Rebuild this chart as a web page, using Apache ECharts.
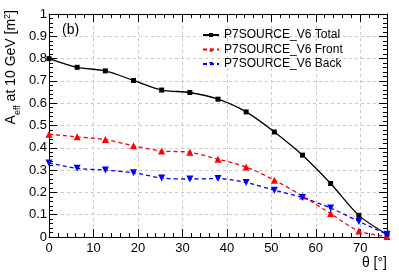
<!DOCTYPE html>
<html>
<head>
<meta charset="utf-8">
<script src="https://cdn.jsdelivr.net/npm/echarts@6/dist/echarts.min.js"></script>
<style>html,body{margin:0;padding:0;background:#fff}#c{width:399px;height:274px}</style>
</head>
<body>
<div id="c"></div>
<script>
const theta = [0, 6.33, 12.67, 19, 25.33, 31.67, 38, 44.33, 50.67, 57, 63.33, 69.67, 76];
const total = [0.800, 0.761, 0.745, 0.702, 0.659, 0.648, 0.618, 0.561, 0.471, 0.367, 0.240, 0.097, 0.012];
const front = [0.461, 0.449, 0.437, 0.409, 0.386, 0.380, 0.349, 0.314, 0.255, 0.184, 0.105, 0.027, 0.002];
const back  = [0.332, 0.308, 0.300, 0.288, 0.265, 0.260, 0.262, 0.244, 0.210, 0.177, 0.130, 0.070, 0.012];
const frontErr = [0, 0, 0, 0, 0, 0, 0, 0, 0.006, 0.006, 0.010, 0.010, 0.006];
const backErr  = [0, 0, 0, 0, 0, 0, 0, 0, 0.006, 0.008, 0.012, 0.010, 0.008];
const seriesNames = ['P7SOURCE_V6 Total', 'P7SOURCE_V6 Front', 'P7SOURCE_V6 Back'];
const xName = 'θ [°]';
const panelLabel = '(b)';

const pair = (ys) => theta.map((t, i) => [t, ys[i]]);
const errData = (ys, es) => theta.map((t, i) => [t, ys[i] - es[i], ys[i] + es[i]]).filter((d, i) => es[i] > 0);
const FONT = 'Liberation Sans, Arial, Helvetica, sans-serif';

const chart = echarts.init(document.getElementById('c'), null, {renderer: 'canvas'});
const gridLine = {show: true, lineStyle: {color: '#c8c8c8', type: [3, 3], width: 1}};
const tickIn = {show: true, inside: true, length: 8, lineStyle: {color: '#000', width: 1}};
const minorIn = {show: true, splitNumber: 5, length: 4, lineStyle: {color: '#000', width: 1}};
const axisLineBlack = {show: true, onZero: false, lineStyle: {color: '#000', width: 1}};

function errBar(color) {
  return function (params, api) {
    const top = api.coord([api.value(0), api.value(2)]);
    const bot = api.coord([api.value(0), api.value(1)]);
    return {
      type: 'line',
      shape: {x1: top[0], y1: top[1], x2: bot[0], y2: bot[1]},
      style: {stroke: color, lineWidth: 1.3}
    };
  };
}

chart.setOption({
  animation: false,
  backgroundColor: '#fff',
  textStyle: {fontFamily: FONT},
  grid: {left: 49, right: 12, top: 14, bottom: 37, containLabel: false},
  legend: {
    orient: 'vertical', left: 202, top: 28.5, padding: 0,
    itemWidth: 16, itemHeight: 5, itemGap: 1.5,
    textStyle: {fontFamily: FONT, fontSize: 12, color: '#000', lineHeight: 13},
    data: seriesNames
  },
  graphic: [{
    type: 'text', left: 62, top: 23,
    style: {text: panelLabel, font: '14px ' + FONT, fill: '#000'}
  }],
  xAxis: [{
    type: 'value', min: 0, max: 76, interval: 10, position: 'bottom',
    name: xName, nameLocation: 'end', nameGap: 0,
    nameTextStyle: {fontFamily: FONT, fontSize: 14, color: '#000', align: 'right', verticalAlign: 'top', padding: [19, 0, 0, 0]},
    axisLine: axisLineBlack, axisTick: tickIn,
    minorTick: minorIn,
    axisLabel: {fontFamily: FONT, fontSize: 13, color: '#000', margin: 5, showMaxLabel: false},
    splitLine: gridLine
  }, {
    type: 'value', min: 0, max: 76, interval: 10, position: 'top',
    axisLine: axisLineBlack, axisTick: tickIn, minorTick: minorIn,
    axisLabel: {show: false}, splitLine: {show: false}
  }],
  yAxis: [{
    type: 'value', min: 0, max: 1, interval: 0.1, position: 'left',
    name: '{a|A}{sub|eff}{a| at 10 GeV [m}{sup|2}{a|]}',
    nameLocation: 'end', nameRotate: 90, nameGap: 4,
    nameTextStyle: {
      align: 'right', verticalAlign: 'bottom', padding: [0, 0, 30, 0],
      rich: {
        a: {fontFamily: FONT, fontSize: 14, color: '#000', lineHeight: 16},
        sub: {fontFamily: FONT, fontSize: 9, color: '#000', verticalAlign: 'bottom', lineHeight: 16, padding: [0, 0, -3, 0]},
        sup: {fontFamily: FONT, fontSize: 9, color: '#000', verticalAlign: 'top', lineHeight: 16}
      }
    },
    axisLine: axisLineBlack, axisTick: tickIn, minorTick: minorIn,
    axisLabel: {fontFamily: FONT, fontSize: 13, color: '#000', margin: 2},
    splitLine: gridLine
  }, {
    type: 'value', min: 0, max: 1, interval: 0.1, position: 'right',
    axisLine: axisLineBlack, axisTick: tickIn, minorTick: minorIn,
    axisLabel: {show: false}, splitLine: {show: false}
  }],
  series: [{
    name: seriesNames[0], type: 'line', data: pair(total), smooth: 0.3,
    symbol: 'rect', symbolSize: 5,
    lineStyle: {color: '#000', width: 1.3},
    itemStyle: {color: '#000'}
  }, {
    name: seriesNames[1], type: 'line', data: pair(front), smooth: 0.3,
    symbol: 'triangle', symbolSize: 7,
    lineStyle: {color: '#ff0000', width: 1.3, type: [4, 3]},
    itemStyle: {color: '#ff0000'}
  }, {
    name: seriesNames[2], type: 'line', data: pair(back), smooth: 0.3,
    symbol: 'triangle', symbolRotate: 180, symbolSize: 7,
    lineStyle: {color: '#0000ff', width: 1.3, type: [4, 3]},
    itemStyle: {color: '#0000ff'}
  }, {
    type: 'custom', data: errData(front, frontErr), renderItem: errBar('#ff0000'),
    encode: {x: 0, y: [1, 2]}, silent: true, z: 1
  }, {
    type: 'custom', data: errData(back, backErr), renderItem: errBar('#0000ff'),
    encode: {x: 0, y: [1, 2]}, silent: true, z: 1
  }]
});
</script>
</body>
</html>
